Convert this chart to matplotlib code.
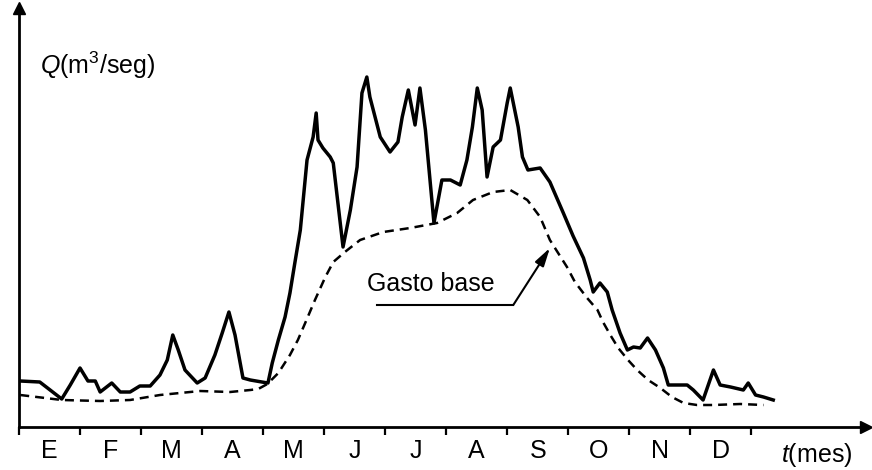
import matplotlib
matplotlib.use("Agg")
import matplotlib.pyplot as plt

plt.rcParams['font.family'] = ['Liberation Sans', 'DejaVu Sans']
plt.rcParams['mathtext.fontset'] = 'custom'
plt.rcParams['mathtext.rm'] = 'Liberation Sans'
plt.rcParams['mathtext.it'] = 'Liberation Sans:italic'

# meses (eje t)
months = ['E', 'F', 'M', 'A', 'M', 'J', 'J', 'A', 'S', 'O', 'N', 'D']

# hidrograma (gasto total), t en meses, Q en unidades arbitrarias
t_total = [0.02, 0.34, 0.51, 0.70, 0.84, 1.00, 1.13, 1.25, 1.33, 1.52, 1.66, 1.82,
           1.98, 2.15, 2.31, 2.43, 2.52, 2.61, 2.72, 2.92, 3.05, 3.21, 3.33, 3.44,
           3.54, 3.67, 3.79, 3.98, 4.08, 4.15, 4.25, 4.36, 4.44, 4.52, 4.61, 4.72,
           4.82, 4.87, 4.90, 4.98, 5.10, 5.15, 5.31, 5.43, 5.54, 5.62, 5.70, 5.75,
           5.92, 6.08, 6.21, 6.28, 6.38, 6.49, 6.57, 6.66, 6.80, 6.93, 7.07, 7.23,
           7.34, 7.43, 7.51, 7.59, 7.67, 7.77, 7.89, 8.00, 8.05, 8.18, 8.25, 8.34,
           8.54, 8.70, 8.92, 9.08, 9.25, 9.36, 9.41, 9.52, 9.64, 9.72, 9.85, 9.97,
           10.07, 10.18, 10.30, 10.43, 10.56, 10.64, 10.79, 10.95, 11.05, 11.21,
           11.38, 11.49, 11.66, 11.87, 11.95, 12.07, 12.20, 12.36]
q_total = [4.6, 4.5, 3.7, 2.8, 4.2, 5.9, 4.6, 4.6, 3.5, 4.4, 3.5, 3.5,
           4.1, 4.1, 5.2, 6.7, 9.2, 7.7, 5.7, 4.4, 4.9, 7.2, 9.4, 11.5,
           9.2, 4.9, 4.7, 4.5, 4.4, 6.4, 8.7, 11.0, 13.4, 16.4, 19.7, 26.7,
           29.0, 31.4, 28.7, 27.9, 27.0, 26.4, 18.0, 21.7, 26.0, 33.4, 35.0, 33.0,
           29.0, 27.5, 28.5, 31.0, 33.7, 30.2, 33.9, 29.7, 20.4, 24.7, 24.7, 24.2,
           26.7, 30.0, 33.9, 31.7, 25.0, 28.0, 28.7, 32.4, 33.9, 30.0, 27.0, 25.7,
           25.9, 24.5, 21.4, 19.1, 16.9, 14.7, 13.5, 14.4, 13.5, 11.7, 9.4, 7.7,
           8.0, 7.9, 8.9, 7.7, 5.9, 4.2, 4.2, 4.2, 3.7, 2.7,
           5.7, 4.2, 4.0, 3.7, 4.4, 3.2, 3.0, 2.7]

# gasto base
t_base = [0.02, 0.70, 1.33, 1.82, 2.31, 2.97, 3.46, 3.79, 3.92, 4.07, 4.25, 4.44,
          4.57, 4.69, 4.85, 5.02, 5.15, 5.34, 5.59, 5.97, 6.41, 6.85, 7.18, 7.44,
          7.77, 8.05, 8.33, 8.54, 8.70, 8.98, 9.11, 9.31, 9.48, 9.57, 9.69, 9.82,
          9.98, 10.13, 10.31, 10.51, 10.70, 10.89, 11.11, 11.38, 11.82, 12.20]
q_base = [3.2, 2.7, 2.6, 2.7, 3.2, 3.6, 3.5, 3.7, 3.8, 4.3, 5.4, 7.2,
          8.7, 10.4, 12.7, 15.0, 16.5, 17.5, 18.7, 19.5, 19.9, 20.4, 21.4, 22.7,
          23.5, 23.7, 22.7, 21.0, 18.7, 16.0, 14.5, 12.9, 11.7, 10.5, 9.2, 7.9,
          6.7, 5.7, 4.7, 3.9, 3.0, 2.4, 2.2, 2.2, 2.3, 2.2]

fig = plt.figure(figsize=(8.72, 4.70), dpi=100)
ax = fig.add_axes([19 / 872, 43 / 470, 847 / 872, 419 / 470])

ax.plot(t_total, q_total, color='black', lw=2.5, solid_joinstyle='round')
ax.plot(t_base, q_base, color='black', lw=1.8, dashes=(3.6, 2.4))

# anotacion "Gasto base"
ax.text(5.70, 14.3, 'Gasto base', fontsize=18, ha='left', va='center')
ax.plot([5.87, 8.10], [12.2, 12.2], color='black', lw=1.5)
ax.annotate('', xy=(8.70, 17.9), xytext=(8.10, 12.2),
            arrowprops=dict(arrowstyle='-|>,head_width=0.3,head_length=1.1',
                            color='black', lw=1.5, shrinkA=0, shrinkB=0))

# ejes con flechas
ax.set_xlim(0, 13.88)
ax.set_ylim(0, 41.9)
for s in ['top', 'right']:
    ax.spines[s].set_visible(False)
ax.spines['left'].set_linewidth(2)
ax.spines['bottom'].set_linewidth(2)
ax.plot(1, 0, '>k', ms=8, transform=ax.get_yaxis_transform(), clip_on=False)
ax.plot(0, 1, '^k', ms=8, transform=ax.get_xaxis_transform(), clip_on=False)

ax.set_xticks(range(13))
ax.set_xticklabels([])
ax.set_xticks([i + 0.5 for i in range(12)], minor=True)
ax.set_xticklabels(months, minor=True, fontsize=18)
ax.tick_params(axis='x', which='major', direction='out', length=6, width=1.6)
ax.tick_params(axis='x', which='minor', length=0, pad=9)
ax.set_yticks([])

ax.text(0.34, 36.2, r'$\mathit{Q}$(m$^3$/seg)', fontsize=18, ha='left', va='center')
ax.text(12.48, -2.8, r'$\mathit{t}$(mes)', fontsize=18, ha='left', va='center',
        clip_on=False)

fig.savefig('out.png', dpi=100)
